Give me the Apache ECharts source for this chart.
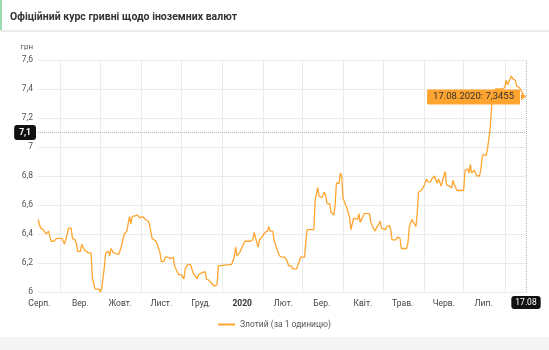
<!DOCTYPE html>
<html>
<head>
<meta charset="utf-8">
<script src="https://cdn.jsdelivr.net/npm/echarts@6/dist/echarts.min.js"></script>
<style>
  html, body { margin: 0; padding: 0; background: #fff; }
  #chart { width: 549px; height: 350px; }
</style>
</head>
<body>
<div id="chart"></div>
<script>
// курс злотого, дні рахуються від 15.08.2019
const startDay = [2019, 7, 15]
const days = [
  0, 2, 4, 6, 7, 8, 9, 10, 12, 14, 15, 16, 18, 20, 21, 22, 23, 25, 26, 28, 29, 30, 32, 33, 35, 36, 38, 40,
  41, 42, 43, 46, 47, 48, 50, 51, 53, 54, 55, 57, 61, 63, 65, 67, 68, 69, 70, 71, 72, 75, 77, 79, 81, 83,
  84, 86, 89, 91, 92, 93, 95, 96, 97, 98, 100, 102, 103, 105, 106, 108, 110, 111, 113, 115, 117, 118, 120,
  121, 123, 124, 126, 127, 129, 131, 133, 135, 136, 137, 146, 148, 149, 150, 152, 154, 156, 160, 162, 163,
  164, 166, 167, 169, 171, 173, 174, 175, 177, 178, 180, 182, 183, 184, 186, 188, 189, 191, 192, 195, 197,
  198, 201, 202, 203, 208, 209, 211, 212, 214, 215, 216, 217, 218, 220, 221, 223, 224, 225, 227, 228, 229,
  230, 232, 233, 234, 235, 236, 238, 239, 241, 242, 243, 245, 246, 250, 251, 252, 254, 255, 257, 258, 259,
  262, 263, 265, 266, 267, 270, 271, 273, 274, 278, 279, 280, 282, 283, 285, 286, 287, 289, 291, 293, 294,
  296, 297, 298, 299, 301, 302, 303, 304, 306, 307, 308, 310, 312, 313, 314, 316, 319, 321, 322, 324, 325,
  326, 327, 329, 330, 331, 333, 334, 335, 336, 338, 339, 341, 342, 343, 345, 347, 348, 350, 352, 353, 354,
  355, 357, 358, 360, 361, 363, 364, 366, 368
]
const rates = [
  6.50, 6.44, 6.43, 6.40, 6.39, 6.42, 6.38, 6.35, 6.35, 6.37, 6.38, 6.37, 6.37, 6.33, 6.33, 6.40, 6.44, 6.44, 6.37, 6.36, 6.33, 6.28, 6.28, 6.33, 6.29, 6.28, 6.27, 6.27,
  6.10, 6.06, 6.02, 6.02, 6.00, 6.02, 6.17, 6.27, 6.28, 6.25, 6.30, 6.27, 6.26, 6.32, 6.40, 6.42, 6.47, 6.52, 6.47, 6.52, 6.53, 6.53, 6.51, 6.52, 6.50, 6.49,
  6.47, 6.37, 6.35, 6.30, 6.27, 6.21, 6.21, 6.24, 6.23, 6.24, 6.23, 6.24, 6.18, 6.14, 6.12, 6.12, 6.09, 6.16, 6.19, 6.19, 6.13, 6.12, 6.09,
  6.12, 6.13, 6.13, 6.14, 6.09, 6.08, 6.06, 6.04, 6.05, 6.18, 6.19, 6.19, 6.24, 6.31, 6.25, 6.27, 6.31, 6.35, 6.35, 6.36, 6.41,
  6.40, 6.31, 6.36, 6.38, 6.41, 6.42, 6.45, 6.42, 6.42, 6.36, 6.30, 6.25, 6.26, 6.24, 6.24, 6.21, 6.18, 6.18, 6.16, 6.16, 6.21,
  6.24, 6.24, 6.35, 6.43, 6.43, 6.63, 6.72, 6.66, 6.65, 6.67, 6.69, 6.66, 6.61, 6.61, 6.55, 6.53, 6.59, 6.75, 6.75, 6.82, 6.80,
  6.65, 6.60, 6.58, 6.58, 6.51, 6.43, 6.51, 6.50, 6.50, 6.54, 6.48, 6.52, 6.54, 6.54, 6.48, 6.47, 6.42, 6.42, 6.47, 6.49, 6.44,
  6.43, 6.45, 6.46, 6.43, 6.36, 6.36, 6.38, 6.37, 6.30, 6.30, 6.34, 6.45, 6.50, 6.50, 6.45, 6.55, 6.69, 6.70, 6.73, 6.78, 6.76,
  6.76, 6.78, 6.77, 6.80, 6.75, 6.78, 6.78, 6.73, 6.80, 6.83, 6.74, 6.73, 6.72, 6.77, 6.74, 6.70, 6.70, 6.70, 6.84, 6.85, 6.82,
  6.88, 6.82, 6.84, 6.82, 6.80, 6.80, 6.85, 6.93, 6.95, 6.94, 6.99, 7.13, 7.27, 7.35, 7.40, 7.40, 7.41, 7.40, 7.41, 7.46, 7.43,
  7.43, 7.49, 7.47, 7.46, 7.42, 7.41, 7.40, 7.36, 7.3455
]
const monthNames = ['Січ.', 'Лют.', 'Бер.', 'Квіт.', 'Трав.', 'Черв.', 'Лип.', 'Серп.', 'Вер.', 'Жовт.', 'Лист.', 'Груд.']
const yTicks = [6, 6.2, 6.4, 6.6, 6.8, 7, 7.2, 7.4, 7.6]
const seriesName = 'Злотий (за 1 одиницю)'
const cursorRate = 7.1

const DAY = 86400000
const t0 = new Date(startDay[0], startDay[1], startDay[2]).getTime()
const toDate = (d) => new Date(startDay[0], startDay[1], startDay[2] + Math.round(d))
const dayOf = (y, m, dd) => Math.round((new Date(y, m, dd).getTime() - t0) / DAY)

const data = days.map((d, i) => [d, rates[i]])
const lastPoint = data[data.length - 1]

// межі місяців (сітка) і середина місяця (підписи)
const monthStarts = []
for (let i = 0; i < 12; i++) monthStarts.push(dayOf(2019, 8 + i, 1))
const monthMids = []
for (let i = 0; i < 13; i++) monthMids.push(dayOf(2019, 7 + i, 16))

const pad2 = (n) => (n < 10 ? '0' : '') + n
const fmtDate = (d, withYear) => {
  const dt = toDate(d)
  return pad2(dt.getDate()) + '.' + pad2(dt.getMonth() + 1) + (withYear ? '.' + dt.getFullYear() : '')
}
const fmtNum = (v) => String(v).replace('.', ',')

const orange = '#ffa52f'
const font = 'Roboto, "Noto Sans", sans-serif'

const chart = echarts.init(document.getElementById('chart'))
chart.setOption({
  animation: false,
  textStyle: { fontFamily: font },
  graphic: [
    { type: 'rect', left: 0, top: 0, shape: { width: 549, height: 30 }, style: { fill: '#fff' } },
    { type: 'rect', left: 0, top: 0, shape: { width: 2, height: 30 }, style: { fill: '#9bdcb2' } },
    { type: 'rect', left: 0, top: 30, shape: { width: 549, height: 2 }, style: { fill: '#ececec' } },
    {
      type: 'text', left: 10, top: 12,
      style: { text: 'Офіційний курс гривні щодо іноземних валют', fill: '#333', font: 'bold 10.5px ' + font }
    },
    { type: 'rect', left: 0, top: 337, shape: { width: 549, height: 13 }, style: { fill: '#f5f5f5' } }
  ],
  grid: { left: 38, right: 23, top: 60, bottom: 58 },
  legend: {
    top: 315,
    left: 'center',
    icon: 'rect',
    itemWidth: 17,
    itemHeight: 2,
    itemGap: 4,
    textStyle: { color: '#555', fontSize: 8.5, fontFamily: font },
    data: [seriesName]
  },
  xAxis: {
    type: 'value',
    min: days[0],
    max: days[days.length - 1],
    axisLine: { show: false },
    axisTick: { show: false, customValues: monthStarts },
    splitLine: { show: true, lineStyle: { color: '#ebebeb', width: 1 } },
    axisLabel: {
      customValues: monthMids,
      hideOverlap: false,
      color: '#444',
      fontSize: 8.5,
      margin: 7,
      formatter: (v) => {
        const dt = toDate(v)
        if (dt.getMonth() === 0) return '{b|' + dt.getFullYear() + '}'
        return monthNames[dt.getMonth()]
      },
      rich: { b: { fontWeight: 'bold', fontSize: 8.5, color: '#333' } }
    },
    axisPointer: {
      show: true,
      value: lastPoint[0],
      status: 'show',
      triggerTooltip: false,
      lineStyle: { color: '#b5b5b5', type: 'dotted', width: 1 },
      label: {
        show: true,
        formatter: (p) => fmtDate(p.value, false),
        backgroundColor: '#111',
        color: '#fff',
        fontSize: 8.5,
        padding: [2, 4, 2, 4],
        margin: 4
      }
    }
  },
  yAxis: {
    type: 'value',
    min: yTicks[0],
    max: yTicks[yTicks.length - 1],
    interval: 0.2,
    name: 'грн',
    nameLocation: 'end',
    nameGap: 9,
    nameTextStyle: { color: '#555', fontSize: 8, align: 'right', padding: [0, 5, 0, 0] },
    axisLine: { show: false },
    axisTick: { show: false },
    splitLine: { lineStyle: { color: '#ebebeb', width: 1 } },
    axisLabel: { color: '#555', fontSize: 8.5, margin: 5, formatter: (v) => fmtNum(v) },
    axisPointer: {
      show: true,
      value: cursorRate,
      status: 'show',
      triggerTooltip: false,
      lineStyle: { color: '#b5b5b5', type: 'dotted', width: 1 },
      label: {
        show: true,
        formatter: (p) => fmtNum(p.value),
        backgroundColor: '#111',
        color: '#fff',
        fontSize: 8.5,
        fontWeight: 'bold',
        padding: [3, 5, 3, 5],
        margin: 2
      }
    }
  },
  series: [
    {
      type: 'line',
      name: seriesName,
      data: data,
      showSymbol: false,
      color: orange,
      lineStyle: { width: 1.3, color: orange },
      markPoint: {
        silent: true,
        symbol: 'triangle',
        symbolRotate: -90,
        symbolSize: [7, 4],
        symbolOffset: [-3, 0],
        itemStyle: { color: orange },
        label: {
          show: true,
          position: 'left',
          distance: 1,
          formatter: () => fmtDate(lastPoint[0], true) + ': ' + fmtNum(lastPoint[1]),
          backgroundColor: orange,
          color: '#333',
          fontSize: 9.5,
          padding: [3, 6, 2, 6],
          borderRadius: 1
        },
        data: [{ coord: lastPoint }]
      }
    }
  ]
})
</script>
</body>
</html>
